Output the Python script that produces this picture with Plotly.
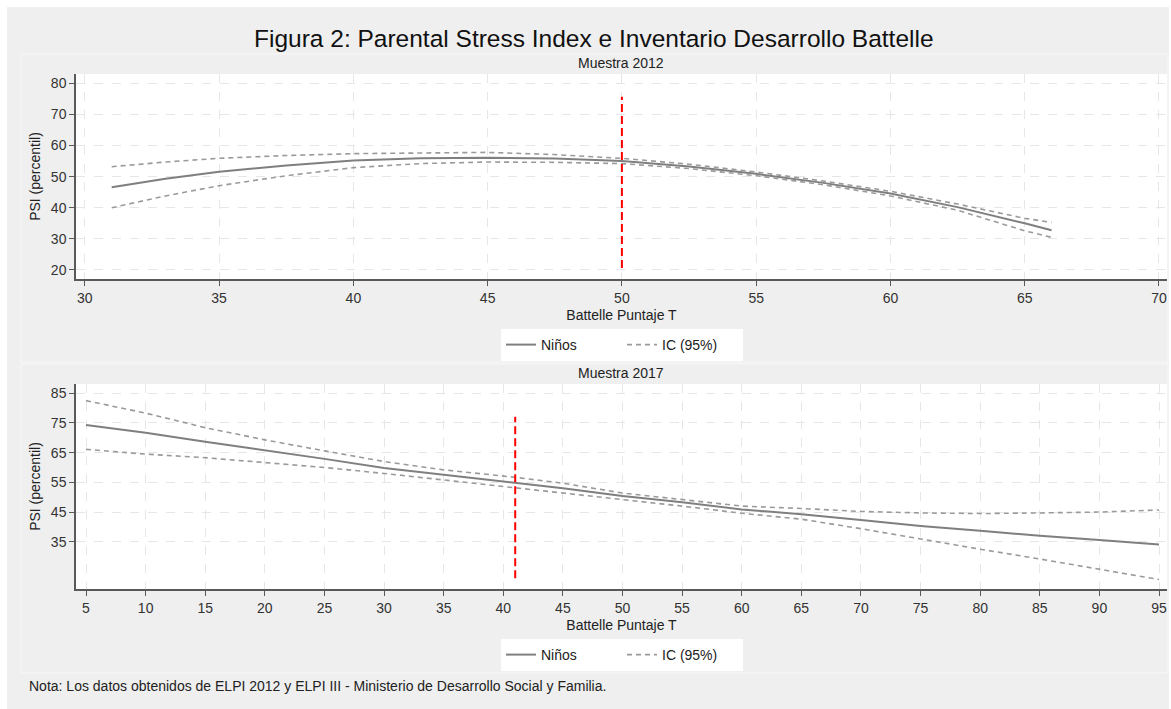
import plotly.graph_objects as go

W, H = 1171, 709

# ---- Data: Muestra 2012 ----
x12 = [31, 33, 35, 37.5, 40, 42.5, 45, 47.5, 50, 52.5, 55, 57.5, 60, 62.5, 65, 66]
fit12 = [46.6, 49.3, 51.6, 53.6, 55.2, 55.9, 56.1, 55.8, 55.0, 53.3, 50.9, 48.0, 44.6, 40.2, 35.0, 32.8]
up12 = [53.2, 54.7, 55.9, 56.8, 57.4, 57.7, 57.8, 57.1, 55.9, 54.0, 51.5, 48.6, 45.3, 41.2, 36.6, 35.3]
lo12 = [40.0, 43.8, 47.1, 50.3, 52.9, 54.2, 54.7, 54.6, 54.2, 52.6, 50.3, 47.4, 43.8, 39.2, 32.6, 30.5]
ref12_x = [50, 50]
ref12_y = [20.6, 75.7]

# ---- Data: Muestra 2017 ----
x17 = [5, 10, 15, 20, 25, 30, 35, 41, 45, 50, 55, 60, 65, 70, 75, 80, 85, 90, 95]
fit17 = [74.3, 71.7, 68.7, 65.9, 62.9, 59.8, 57.5, 54.9, 53.0, 50.4, 48.3, 45.9, 44.3, 42.3, 40.3, 38.7, 37.0, 35.6, 34.1]
up17 = [82.5, 78.3, 73.4, 69.3, 65.6, 62.0, 59.2, 56.7, 54.7, 51.4, 49.2, 47.0, 46.2, 45.2, 44.7, 44.5, 44.7, 45.0, 45.7]
lo17 = [66.1, 64.5, 63.3, 61.7, 60.0, 58.0, 55.8, 53.2, 51.5, 49.4, 47.0, 44.6, 42.6, 39.4, 35.9, 32.5, 29.2, 25.8, 22.3]
ref17_x = [41, 41]
ref17_y = [22.7, 77.1]

xt12 = [30, 35, 40, 45, 50, 55, 60, 65, 70]
yt12 = [20, 30, 40, 50, 60, 70, 80]
xt17 = list(range(5, 100, 5))
yt17 = [35, 45, 55, 65, 75, 85]

title = "Figura 2: Parental Stress Index e Inventario Desarrollo Battelle"
note = "Nota: Los datos obtenidos de ELPI 2012 y ELPI III - Ministerio de Desarrollo Social y Familia."

def px(v):
    return v / W

def py(v):
    return 1 - v / H

FONT = "Liberation Sans, Arial, sans-serif"
FS = 14
solid = dict(color="#7f7f7f", width=2)
dashed = dict(color="#9a9a9a", width=1.6, dash="5px,4px")
red = dict(color="#ff0000", width=2, dash="8px,4px")

fig = go.Figure()

# top panel
fig.add_trace(go.Scatter(x=x12, y=fit12, mode="lines", line=solid, name="Niños",
                         xaxis="x", yaxis="y", legend="legend", hoverinfo="skip"))
fig.add_trace(go.Scatter(x=x12, y=up12, mode="lines", line=dashed, name="IC (95%)",
                         xaxis="x", yaxis="y", legend="legend", hoverinfo="skip"))
fig.add_trace(go.Scatter(x=x12, y=lo12, mode="lines", line=dashed, name="IC (95%)",
                         showlegend=False, xaxis="x", yaxis="y", hoverinfo="skip"))
fig.add_trace(go.Scatter(x=ref12_x, y=ref12_y, mode="lines", line=red, showlegend=False,
                         xaxis="x", yaxis="y", hoverinfo="skip"))

# bottom panel
fig.add_trace(go.Scatter(x=x17, y=fit17, mode="lines", line=solid, name="Niños",
                         xaxis="x2", yaxis="y2", legend="legend2", hoverinfo="skip"))
fig.add_trace(go.Scatter(x=x17, y=up17, mode="lines", line=dashed, name="IC (95%)",
                         xaxis="x2", yaxis="y2", legend="legend2", hoverinfo="skip"))
fig.add_trace(go.Scatter(x=x17, y=lo17, mode="lines", line=dashed, name="IC (95%)",
                         showlegend=False, xaxis="x2", yaxis="y2", hoverinfo="skip"))
fig.add_trace(go.Scatter(x=ref17_x, y=ref17_y, mode="lines", line=red, showlegend=False,
                         xaxis="x2", yaxis="y2", hoverinfo="skip"))

axis_common = dict(
    showline=True, linecolor="#595959", linewidth=1.5,
    ticks="outside", ticklen=5, tickwidth=1.2, tickcolor="#595959",
    showgrid=True, gridcolor="#e6e6e6", griddash="dash", gridwidth=1,
    zeroline=False, tickfont=dict(size=FS, color="#333333", family=FONT),
    fixedrange=True,
)

xdom = [px(76), px(1167)]
leg_common = dict(orientation="h", x=px(622), xanchor="center", yanchor="middle",
                  bgcolor="#ffffff", borderwidth=0, font=dict(size=FS, color="#222222"),
                  entrywidth=76, entrywidthmode="pixels")
fig.update_layout(
    width=W, height=H,
    margin=dict(l=0, r=0, t=0, b=0),
    paper_bgcolor="#ffffff",
    plot_bgcolor="#ffffff",
    font=dict(family=FONT, color="#222222"),
    xaxis=dict(axis_common, domain=xdom, range=[29.67, 70.3], tickvals=xt12,
               anchor="y",
               title=dict(text="Battelle Puntaje T", font=dict(size=FS), standoff=6)),
    yaxis=dict(axis_common, domain=[py(279), py(74)], range=[17.1, 83], tickvals=yt12,
               anchor="x",
               title=dict(text="PSI (percentil)", font=dict(size=FS), standoff=7)),
    xaxis2=dict(axis_common, domain=xdom, range=[4.16, 95.67], tickvals=xt17,
                anchor="y2",
                title=dict(text="Battelle Puntaje T", font=dict(size=FS), standoff=6)),
    yaxis2=dict(axis_common, domain=[py(589), py(384)], range=[19.1, 88.1], tickvals=yt17,
                anchor="x2",
                title=dict(text="PSI (percentil)", font=dict(size=FS), standoff=7)),
    legend=dict(leg_common, y=py(345)),
    legend2=dict(leg_common, y=py(655)),
    showlegend=True,
)

shapes = [
    dict(type="rect", xref="paper", yref="paper", x0=px(7), x1=px(1169), y0=py(709), y1=py(7),
         fillcolor="#efefef", line=dict(width=0), layer="below"),
    dict(type="rect", xref="paper", yref="paper", x0=px(21), x1=px(1168), y0=py(362), y1=py(54),
         fillcolor="#efefef", line=dict(width=1, color="#f8f8f8"), layer="below"),
    dict(type="rect", xref="paper", yref="paper", x0=px(21), x1=px(1168), y0=py(673), y1=py(364),
         fillcolor="#efefef", line=dict(width=1, color="#f8f8f8"), layer="below"),
    dict(type="rect", xref="paper", yref="paper", x0=px(76), x1=px(1167), y0=py(279), y1=py(74),
         fillcolor="#ffffff", line=dict(width=0), layer="below"),
    dict(type="rect", xref="paper", yref="paper", x0=px(76), x1=px(1167), y0=py(589), y1=py(384),
         fillcolor="#ffffff", line=dict(width=0), layer="below"),
]
fig.update_layout(shapes=shapes)

annotations = [
    dict(text=title, x=px(594), y=py(38), xref="paper", yref="paper", showarrow=False,
         xanchor="center", yanchor="middle", font=dict(size=24.5, color="#111111", family=FONT)),
    dict(text="Muestra 2012", x=px(621), y=py(63), xref="paper", yref="paper", showarrow=False,
         xanchor="center", yanchor="middle", font=dict(size=FS, color="#222222", family=FONT)),
    dict(text="Muestra 2017", x=px(621), y=py(373), xref="paper", yref="paper", showarrow=False,
         xanchor="center", yanchor="middle", font=dict(size=FS, color="#222222", family=FONT)),
    dict(text=note, x=px(27), y=py(686), xref="paper", yref="paper", showarrow=False,
         xanchor="left", yanchor="middle", font=dict(size=FS, color="#222222", family=FONT)),
]
fig.update_layout(annotations=annotations)

fig.write_html("out.html", config={"displayModeBar": False},
               post_script="document.body.style.margin='0';document.body.style.overflow='hidden';")
